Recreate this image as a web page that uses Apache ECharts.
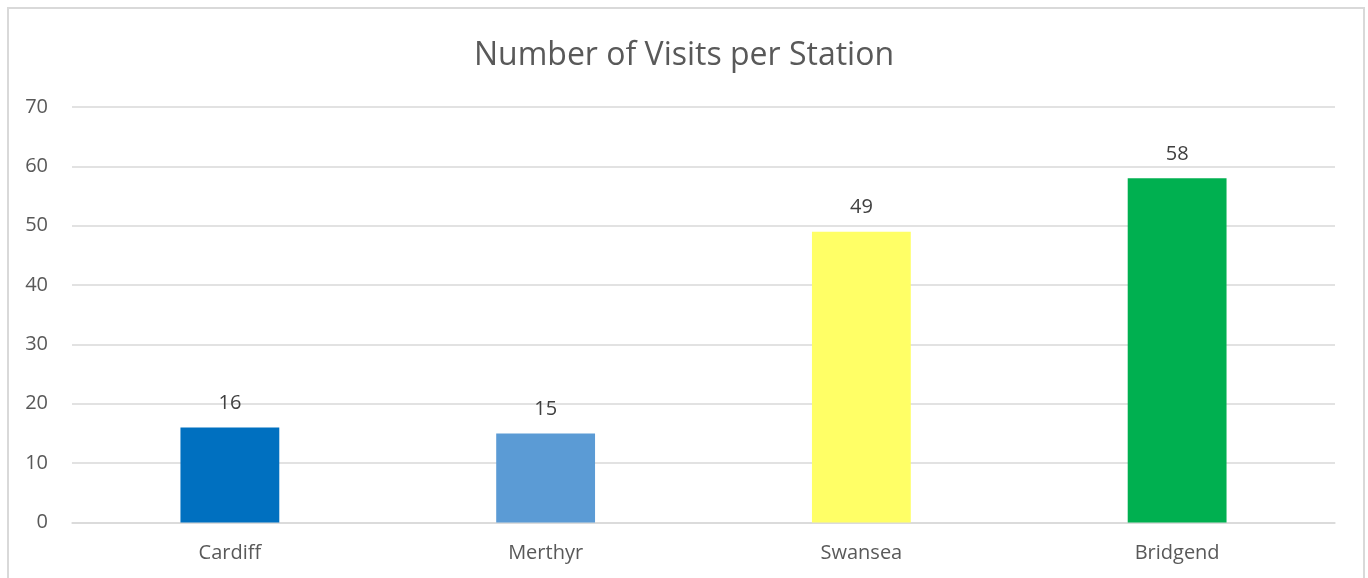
<!DOCTYPE html>
<html>
<head>
<meta charset="utf-8">
<script src="https://cdn.jsdelivr.net/npm/echarts@6/dist/echarts.min.js"></script>
<style>
html,body{margin:0;padding:0;background:#fff;}
#chart{width:1368px;height:578px;}
</style>
</head>
<body>
<div id="chart"></div>
<script>
const titleText = "Number of Visits per Station";
const categories = ["Cardiff", "Merthyr", "Swansea", "Bridgend"];
const visits = [16, 15, 49, 58];
const barColors = ["#0070C0", "#5B9BD5", "#FFFF66", "#00B050"];
const yTicks = [0, 10, 20, 30, 40, 50, 60, 70];

const font = "'Open Sans', 'Noto Sans', sans-serif";
const chart = echarts.init(document.getElementById('chart'));
chart.setOption({
  animation: false,
  backgroundColor: '#fff',
  title: {
    text: titleText,
    left: 'center',
    top: 35,
    textStyle: { fontFamily: font, fontSize: 32, fontWeight: 'normal', color: '#595959' }
  },
  graphic: [{
    type: 'rect',
    shape: { x: 8, y: 8, width: 1356, height: 600 },
    style: { fill: 'none', stroke: '#d9d9d9', lineWidth: 2 },
    z: -1
  }],
  grid: { left: 72, right: 33, top: 107, bottom: 55.5, containLabel: false },
  xAxis: {
    type: 'category',
    data: categories,
    axisLine: { show: true, lineStyle: { color: '#d9d9d9', width: 1.5 } },
    axisTick: { show: false },
    axisLabel: { color: '#595959', fontFamily: font, fontSize: 20, margin: 21 }
  },
  yAxis: {
    type: 'value',
    min: yTicks[0],
    max: yTicks[yTicks.length - 1],
    interval: 10,
    axisLine: { show: false },
    axisTick: { show: false },
    splitLine: { lineStyle: { color: '#d9d9d9', width: 1.5 } },
    axisLabel: { color: '#595959', fontFamily: font, fontSize: 20, margin: 24 }
  },
  series: [{
    type: 'bar',
    data: visits.map((v, i) => ({ value: v, itemStyle: { color: barColors[i] } })),
    barWidth: '31.3%',
    label: {
      show: true,
      position: 'top',
      distance: 14,
      color: '#404040',
      fontFamily: font,
      fontSize: 20
    }
  }]
});
</script>
</body>
</html>
